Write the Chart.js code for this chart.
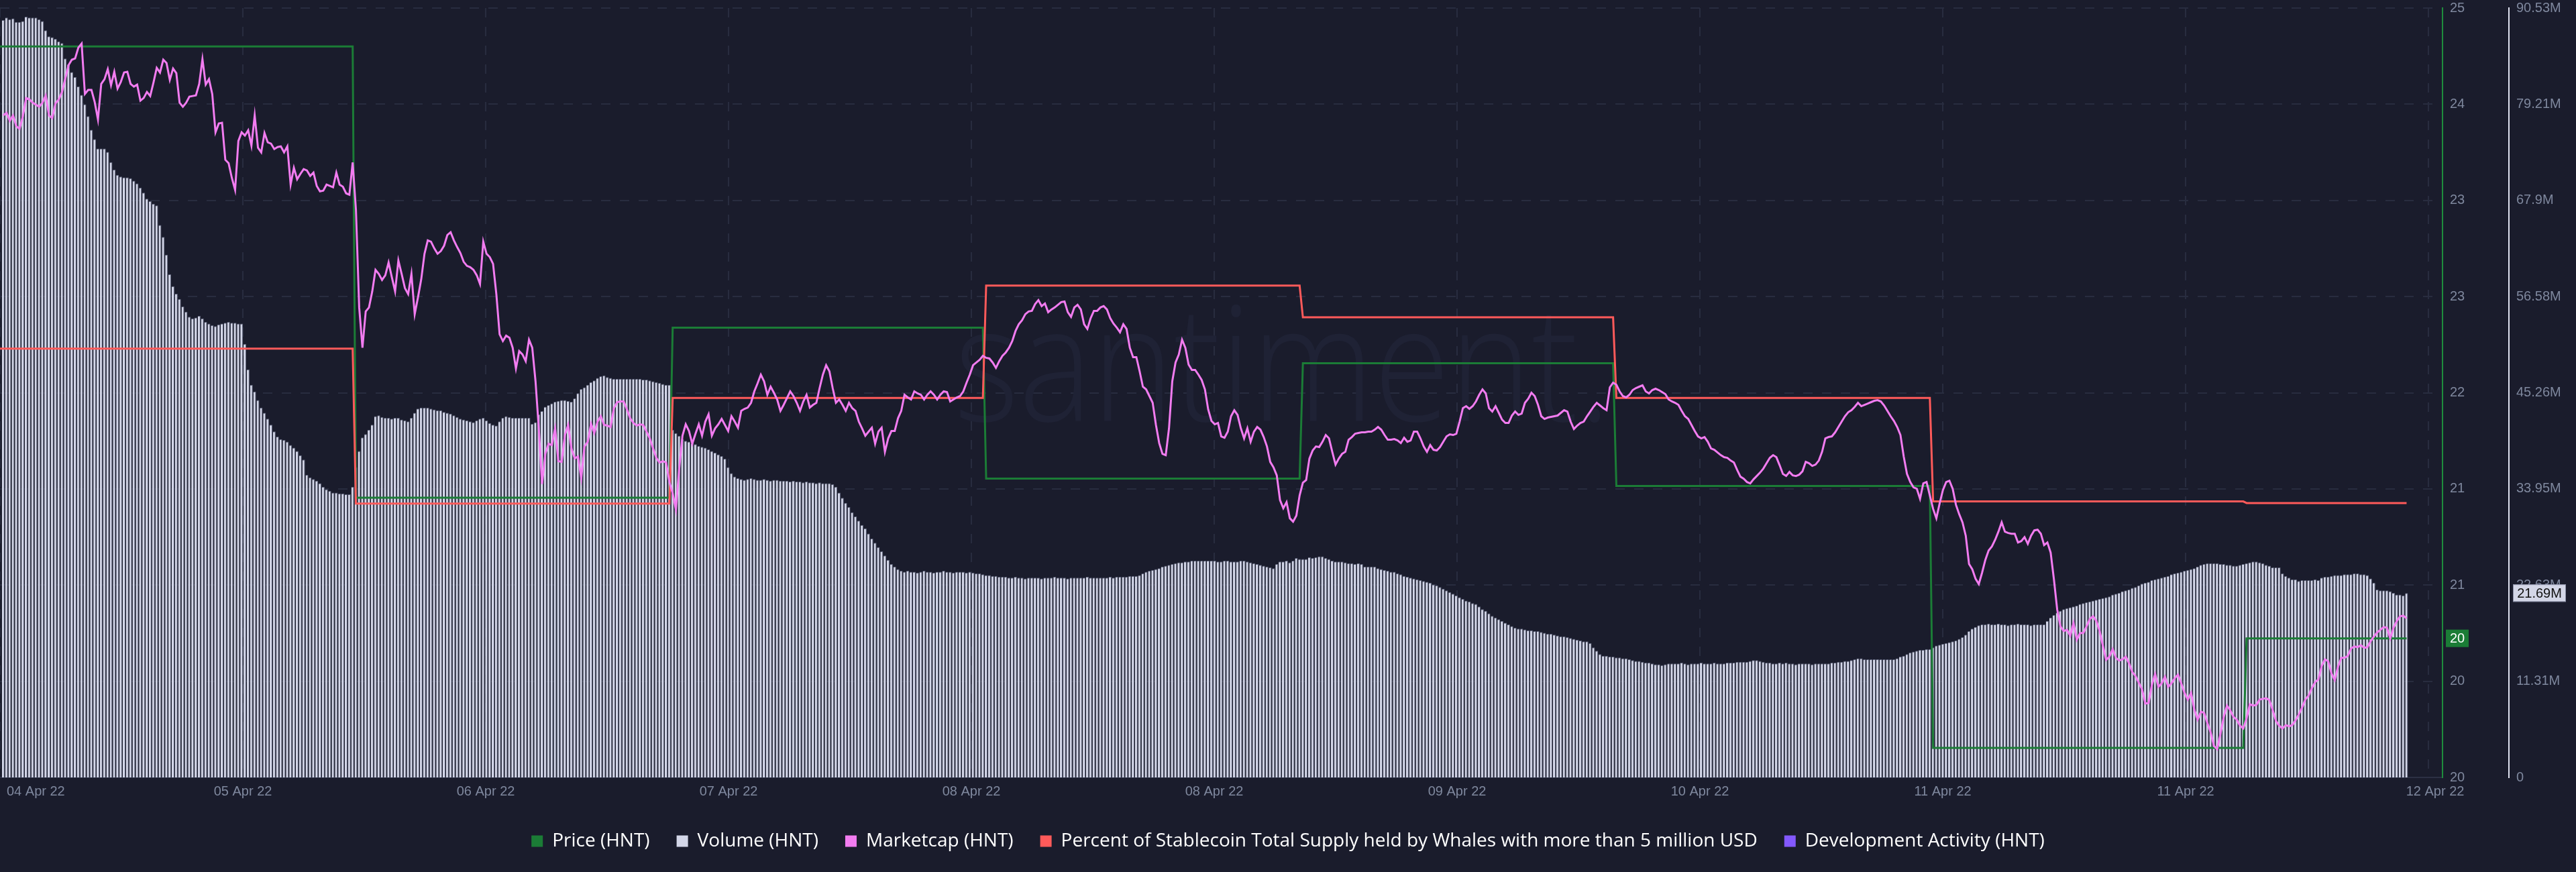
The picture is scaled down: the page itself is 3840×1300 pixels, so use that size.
<!DOCTYPE html>
<html>
<head>
<meta charset="utf-8">
<script src="https://cdn.jsdelivr.net/npm/chart.js@4.4.1/dist/chart.umd.min.js"></script>
<style>
  html, body { margin: 0; padding: 0; background: #1a1c2c; }
  #chart { display: block; width: 3840px; height: 1300px; }
</style>
</head>
<body>
<canvas id="chart" width="3840" height="1300"></canvas>
<script>
// ---- data (15 min samples, bar index 0 .. n-1) ----
const xTickLabels = ['04 Apr 22', '05 Apr 22', '06 Apr 22', '07 Apr 22', '08 Apr 22', '08 Apr 22',
  '09 Apr 22', '10 Apr 22', '11 Apr 22', '11 Apr 22', '12 Apr 22'];
const priceTickLabels = ['20', '20', '21', '21', '22', '23', '23', '24', '25'];
const volumeTickLabels = ['0', '11.31M', '22.63M', '33.95M', '45.26M', '56.58M', '67.9M', '79.21M', '90.53M'];

// daily series: first sample index of each day and the value
const dayStart = [-1, 108, 205, 301, 398, 494, 591, 687];
const priceValues = [24.46, 21.41, 22.56, 21.54, 22.32, 21.49, 19.72, 20.46];
const whaleValues = [38.36, 35.34, 37.40, 39.59, 38.97, 37.40, 35.38, 35.35];

// volume, millions USD
const volumeValues = [
  89.1, 89.4, 89.2, 89.3, 88.9, 88.9, 89.0, 89.5, 89.4, 89.4,
  89.4, 89.2, 89.0, 87.9, 87.2, 87.1, 86.9, 86.6, 86.4, 84.6,
  83.9, 83.0, 82.4, 81.3, 80.3, 79.2, 77.8, 76.2, 75.1, 74.0,
  74.0, 74.0, 73.6, 72.4, 71.5, 70.9, 70.7, 70.6, 70.6, 70.5,
  70.2, 69.9, 69.4, 68.8, 68.1, 67.8, 67.5, 67.3, 65.0, 63.6,
  61.5, 59.2, 57.8, 56.9, 56.3, 55.4, 54.8, 54.2, 54.0, 54.1,
  54.3, 54.0, 53.6, 53.4, 53.2, 53.1, 53.3, 53.4, 53.5, 53.6,
  53.5, 53.5, 53.4, 53.4, 51.0, 48.0, 46.2, 45.4, 44.4, 43.5,
  42.9, 42.2, 41.5, 40.7, 40.1, 39.8, 39.7, 39.5, 39.1, 38.8,
  38.4, 37.9, 37.4, 35.6, 35.3, 35.1, 34.9, 34.6, 34.2, 33.9,
  33.7, 33.5, 33.5, 33.4, 33.4, 33.3, 33.3, 34.2, 36.5, 38.4,
  40.0, 40.4, 40.9, 41.5, 42.5, 42.6, 42.4, 42.3, 42.3, 42.2,
  42.3, 42.3, 42.1, 42.0, 41.9, 42.3, 42.9, 43.4, 43.5, 43.5,
  43.5, 43.4, 43.3, 43.2, 43.2, 43.0, 42.9, 42.8, 42.6, 42.4,
  42.2, 42.1, 42.0, 41.9, 41.8, 42.0, 42.2, 42.3, 42.0, 41.7,
  41.5, 41.4, 41.9, 42.3, 42.5, 42.4, 42.3, 42.3, 42.3, 42.3,
  42.3, 42.3, 41.6, 41.8, 42.7, 43.1, 43.6, 43.8, 44.0, 44.2,
  44.3, 44.4, 44.4, 44.3, 44.2, 44.6, 45.2, 45.7, 45.9, 46.2,
  46.5, 46.7, 47.0, 47.2, 47.3, 47.1, 47.0, 46.9, 46.9, 46.9,
  46.9, 46.9, 46.9, 46.9, 46.9, 46.9, 46.8, 46.8, 46.7, 46.6,
  46.5, 46.4, 46.3, 46.2, 46.2, 40.9, 40.5, 40.2, 39.8, 39.6,
  39.5, 39.3, 39.2, 39.0, 38.9, 38.8, 38.6, 38.4, 38.2, 38.0,
  37.8, 37.5, 36.5, 35.8, 35.4, 35.2, 35.1, 35.0, 35.1, 35.2,
  35.1, 35.0, 35.0, 35.1, 35.0, 34.9, 35.0, 35.0, 34.9, 34.9,
  34.9, 34.8, 34.9, 34.8, 34.8, 34.7, 34.8, 34.7, 34.7, 34.6,
  34.7, 34.6, 34.6, 34.6, 34.5, 34.2, 33.5, 32.9, 32.3, 31.8,
  31.2, 30.7, 30.2, 29.7, 29.3, 28.7, 28.1, 27.6, 27.1, 26.6,
  26.1, 25.6, 25.1, 24.8, 24.5, 24.3, 24.2, 24.3, 24.2, 24.2,
  24.1, 24.2, 24.3, 24.2, 24.2, 24.1, 24.2, 24.2, 24.3, 24.2,
  24.2, 24.1, 24.2, 24.2, 24.2, 24.1, 24.2, 24.1, 24.0, 24.0,
  23.9, 23.8, 23.8, 23.7, 23.7, 23.6, 23.6, 23.6, 23.5, 23.5,
  23.6, 23.5, 23.5, 23.4, 23.5, 23.5, 23.5, 23.5, 23.4, 23.5,
  23.5, 23.5, 23.6, 23.5, 23.5, 23.5, 23.4, 23.5, 23.5, 23.5,
  23.5, 23.5, 23.6, 23.5, 23.5, 23.5, 23.5, 23.5, 23.5, 23.6,
  23.5, 23.6, 23.6, 23.6, 23.6, 23.7, 23.7, 23.7, 23.8, 24.0,
  24.2, 24.3, 24.4, 24.5, 24.6, 24.8, 24.9, 25.0, 25.1, 25.2,
  25.3, 25.3, 25.4, 25.4, 25.5, 25.5, 25.5, 25.5, 25.5, 25.5,
  25.5, 25.5, 25.4, 25.4, 25.5, 25.5, 25.4, 25.4, 25.4, 25.5,
  25.5, 25.4, 25.3, 25.2, 25.1, 25.0, 24.9, 24.8, 24.7, 24.6,
  25.1, 25.4, 25.4, 25.5, 25.3, 25.5, 25.8, 25.7, 25.7, 25.7,
  25.9, 25.8, 25.9, 26.0, 26.0, 25.8, 25.7, 25.5, 25.4, 25.4,
  25.4, 25.3, 25.2, 25.2, 25.1, 25.2, 25.1, 24.8, 24.8, 24.8,
  24.8, 24.6, 24.5, 24.4, 24.3, 24.2, 24.2, 24.0, 23.9, 23.7,
  23.6, 23.5, 23.4, 23.3, 23.2, 23.1, 23.0, 22.9, 22.7, 22.6,
  22.4, 22.2, 22.0, 21.8, 21.6, 21.4, 21.2, 21.0, 20.8, 20.7,
  20.5, 20.4, 20.1, 19.8, 19.6, 19.3, 19.0, 18.8, 18.6, 18.4,
  18.2, 18.0, 17.8, 17.6, 17.5, 17.5, 17.4, 17.3, 17.3, 17.2,
  17.2, 17.1, 17.0, 16.9, 16.9, 16.8, 16.7, 16.6, 16.6, 16.5,
  16.4, 16.3, 16.2, 16.1, 16.0, 16.0, 15.8, 15.3, 14.9, 14.5,
  14.3, 14.3, 14.2, 14.2, 14.1, 14.1, 14.0, 14.0, 13.9, 13.8,
  13.7, 13.7, 13.6, 13.5, 13.5, 13.4, 13.3, 13.3, 13.2, 13.3,
  13.4, 13.4, 13.4, 13.4, 13.5, 13.4, 13.3, 13.4, 13.4, 13.4,
  13.5, 13.4, 13.4, 13.4, 13.5, 13.4, 13.4, 13.4, 13.5, 13.5,
  13.5, 13.6, 13.6, 13.6, 13.6, 13.7, 13.8, 13.8, 13.7, 13.6,
  13.5, 13.5, 13.4, 13.4, 13.5, 13.4, 13.5, 13.4, 13.4, 13.3,
  13.4, 13.4, 13.4, 13.4, 13.3, 13.4, 13.4, 13.4, 13.4, 13.4,
  13.5, 13.5, 13.6, 13.6, 13.7, 13.7, 13.8, 13.9, 14.0, 14.0,
  13.9, 13.9, 13.9, 13.9, 13.9, 13.9, 13.9, 13.9, 13.9, 13.9,
  14.0, 14.2, 14.3, 14.5, 14.7, 14.8, 14.9, 15.0, 15.0, 15.1,
  15.1, 15.3, 15.5, 15.6, 15.7, 15.8, 15.9, 16.0, 16.1, 16.3,
  16.5, 16.8, 17.2, 17.5, 17.7, 17.9, 18.0, 18.0, 18.1, 18.0,
  18.0, 18.1, 18.0, 18.0, 17.9, 18.0, 18.0, 18.1, 18.0, 18.0,
  18.0, 17.9, 18.0, 18.0, 18.0, 18.0, 18.4, 18.8, 19.1, 19.4,
  19.6, 19.8, 19.9, 20.0, 20.1, 20.2, 20.4, 20.5, 20.6, 20.7,
  20.8, 20.9, 21.0, 21.1, 21.2, 21.3, 21.5, 21.6, 21.7, 21.9,
  22.0, 22.1, 22.3, 22.4, 22.6, 22.8, 22.9, 23.0, 23.2, 23.3,
  23.4, 23.5, 23.6, 23.7, 23.9, 24.0, 24.1, 24.2, 24.3, 24.4,
  24.5, 24.6, 24.8, 25.0, 25.1, 25.2, 25.2, 25.2, 25.2, 25.1,
  25.1, 25.0, 25.0, 24.9, 24.9, 25.0, 25.1, 25.2, 25.3, 25.4,
  25.4, 25.3, 25.2, 25.0, 24.9, 24.7, 24.7, 24.7, 24.0, 23.7,
  23.5, 23.3, 23.3, 23.1, 23.2, 23.2, 23.2, 23.2, 23.3, 23.2,
  23.5, 23.6, 23.6, 23.7, 23.8, 23.8, 23.8, 23.9, 23.9, 23.9,
  24.0, 24.0, 23.9, 23.9, 23.8, 23.4, 22.9, 22.1, 22.0, 22.0,
  22.0, 21.9, 21.7, 21.5, 21.5, 21.4, 21.69
];

// marketcap, millions USD
const marketcapValues = [
  2986, 2990, 2978, 2986, 2970, 2966, 2985, 3012, 3010, 3005,
  3002, 2999, 3005, 3016, 2986, 2982, 3004, 3010, 3021, 3041,
  3061, 3069, 3071, 3087, 3093, 3018, 3024, 3024, 3006, 2980,
  3033, 3040, 3055, 3031, 3051, 3026, 3036, 3050, 3051, 3033,
  3029, 3032, 3008, 3012, 3021, 3015, 3035, 3057, 3050, 3069,
  3064, 3039, 3056, 3049, 3005, 2999, 3005, 3014, 3015, 3016,
  3033, 3070, 3032, 3040, 3018, 2961, 2974, 2975, 2920, 2915,
  2893, 2875, 2948, 2961, 2956, 2964, 2941, 2986, 2938, 2931,
  2960, 2946, 2944, 2936, 2939, 2940, 2931, 2940, 2883, 2908,
  2891, 2899, 2906, 2904, 2896, 2901, 2881, 2873, 2874, 2883,
  2881, 2879, 2901, 2883, 2880, 2870, 2868, 2916, 2846, 2700,
  2640, 2694, 2700, 2724, 2756, 2750, 2741, 2748, 2767, 2745,
  2724, 2770, 2750, 2729, 2720, 2750, 2690, 2715, 2742, 2780,
  2800, 2798, 2788, 2780, 2784, 2792, 2808, 2812, 2800, 2790,
  2781, 2768, 2762, 2760, 2756, 2748, 2735, 2798, 2780, 2775,
  2765, 2720, 2660, 2650, 2658, 2655, 2640, 2609, 2635, 2630,
  2620, 2652, 2640, 2590, 2520, 2437, 2482, 2497, 2495, 2520,
  2471, 2470, 2510, 2525, 2490, 2475, 2478, 2446, 2493, 2500,
  2527, 2513, 2530, 2538, 2525, 2524, 2522, 2550, 2559, 2560,
  2560, 2548, 2535, 2528, 2524, 2526, 2525, 2515, 2505, 2490,
  2476, 2469, 2471, 2469, 2440, 2423, 2399, 2460, 2509, 2526,
  2516, 2497, 2512, 2526, 2509, 2530, 2541, 2509, 2520, 2526,
  2534, 2525, 2516, 2538, 2530, 2521, 2546, 2549, 2551, 2558,
  2575, 2587, 2600, 2590, 2570, 2582, 2573, 2563, 2546, 2555,
  2565, 2575, 2568, 2558, 2546, 2560, 2570, 2551, 2555, 2558,
  2580, 2600, 2614, 2605, 2580, 2558, 2563, 2555, 2546, 2558,
  2550, 2546, 2530, 2520, 2509, 2515, 2521, 2497, 2515, 2521,
  2485, 2505, 2516, 2516, 2535, 2546, 2570, 2566, 2563, 2575,
  2572, 2570, 2563, 2570, 2575, 2570, 2563, 2570, 2575, 2574,
  2560, 2563, 2566, 2568, 2575, 2588, 2600, 2614, 2618, 2622,
  2628, 2625, 2624, 2618, 2610, 2620, 2628, 2633, 2640, 2650,
  2665, 2675, 2681, 2690, 2694, 2695, 2705, 2711, 2702, 2706,
  2693, 2697, 2700, 2704, 2708, 2709, 2693, 2686, 2700, 2704,
  2697, 2675, 2668, 2684, 2695, 2695, 2700, 2702, 2697, 2684,
  2676, 2670, 2663, 2675, 2668, 2640, 2626, 2626, 2605, 2582,
  2578, 2568, 2558, 2525, 2498, 2482, 2480, 2520, 2590, 2618,
  2630, 2652, 2640, 2615, 2607, 2607, 2600, 2592, 2578, 2548,
  2531, 2526, 2528, 2508, 2506, 2515, 2538, 2547, 2540, 2520,
  2505, 2520, 2500, 2515, 2522, 2518, 2507, 2493, 2470, 2462,
  2450, 2413, 2401, 2410, 2386, 2381, 2390, 2420, 2439, 2443,
  2475, 2487, 2493, 2492, 2500, 2510, 2505, 2485, 2466, 2475,
  2482, 2485, 2503, 2507, 2512, 2513, 2514, 2514, 2515, 2515,
  2518, 2522, 2518, 2510, 2503, 2503, 2504, 2502, 2498, 2506,
  2500, 2502, 2515, 2515, 2505, 2493, 2485, 2495, 2488, 2487,
  2492, 2500, 2508, 2511, 2510, 2512, 2530, 2550, 2553, 2549,
  2553, 2560, 2570, 2578, 2572, 2550, 2545, 2553, 2543, 2533,
  2528, 2528, 2539, 2545, 2540, 2542, 2558, 2564, 2573, 2568,
  2555, 2538, 2534, 2536, 2537, 2538, 2539, 2543, 2547, 2545,
  2530, 2519, 2524, 2528, 2530, 2538, 2545, 2552, 2558, 2554,
  2550, 2547, 2581, 2588, 2585, 2575, 2568, 2566, 2570, 2577,
  2580, 2582, 2584, 2575, 2572, 2577, 2579, 2577, 2574, 2571,
  2563, 2560, 2558, 2555, 2546, 2538, 2534, 2525, 2516, 2508,
  2505, 2507, 2500, 2490, 2488, 2484, 2480, 2477, 2476, 2472,
  2469, 2458, 2448, 2445, 2440, 2438, 2444, 2449, 2454, 2460,
  2468, 2476, 2480, 2477, 2465, 2452, 2449, 2455, 2450, 2449,
  2451, 2456, 2470, 2468, 2464, 2466, 2472, 2485, 2505, 2507,
  2508, 2514, 2522, 2530, 2538, 2544, 2547, 2552, 2558, 2553,
  2555, 2557, 2559, 2561, 2562, 2560, 2554, 2546, 2538, 2531,
  2522, 2510, 2478, 2452, 2440, 2432, 2430, 2415, 2438, 2440,
  2420, 2400, 2386, 2408, 2428, 2440, 2442, 2430, 2406, 2392,
  2380, 2360, 2318, 2310, 2296, 2288, 2305, 2324, 2338, 2344,
  2354, 2366, 2380, 2366, 2364, 2363, 2363, 2350, 2352, 2358,
  2348, 2360, 2368, 2369, 2363, 2346, 2350, 2335, 2295, 2250,
  2225, 2218, 2220, 2211, 2230, 2205, 2215, 2215, 2225, 2236,
  2240, 2233, 2218, 2196, 2175, 2180, 2191, 2178, 2174, 2176,
  2180, 2170, 2157, 2151, 2141, 2131, 2110, 2111, 2138, 2154,
  2135, 2140, 2150, 2135, 2140, 2148, 2153, 2140, 2126, 2116,
  2126, 2101, 2086, 2098, 2096, 2081, 2067, 2047, 2042, 2065,
  2090, 2107, 2100, 2090, 2086, 2077, 2073, 2088, 2109, 2107,
  2108, 2116, 2117, 2118, 2115, 2100, 2084, 2077, 2073, 2078,
  2076, 2078, 2085, 2094, 2104, 2116, 2122, 2133, 2142, 2146,
  2166, 2176, 2173, 2155, 2145, 2165, 2178, 2178, 2181, 2192,
  2195, 2194, 2197, 2193, 2194, 2203, 2210, 2216, 2220, 2224,
  2223, 2207, 2223, 2233, 2240, 2241, 2237
];

// ---- look ----
const BG = '#1a1c2c';
const GRID = '#282c3f';
const TICK_COLOR = '#7f889e';
const GREEN = '#1b7c36';
const PINK = '#f27cf0';
const RED = '#ff5a5a';
const PURPLE = '#8358ff';
const VOL_FILL = '#d3d6e8';
const VOL_EDGE = '#60657c';
const legendColors = [GREEN, VOL_FILL, PINK, RED, PURPLE];

const X_MIN = -1;
const X_MAX = 747;
const TICK_STEP = 74.37;

const lastIndex = volumeValues.length - 1;

function stepPoints(values) {
  const pts = [];
  values.forEach((v, k) => {
    const end = k + 1 < dayStart.length ? dayStart[k + 1] - 1 : lastIndex;
    pts.push({ x: dayStart[k], y: v });
    pts.push({ x: end, y: v });
  });
  return pts;
}

const volumePoints = volumeValues.map((v, i) => ({ x: i, y: v }));
const marketcapPoints = marketcapValues.map((v, i) => ({ x: i, y: v }));

Chart.defaults.font.family = '"Liberation Sans", Arial, sans-serif';
Chart.defaults.font.size = 20;

const background = {
  id: 'background',
  beforeDraw(chart) {
    const ctx = chart.ctx;
    ctx.save();
    ctx.fillStyle = BG;
    ctx.fillRect(0, 0, chart.width, chart.height);
    ctx.restore();
  }
};

const watermark = {
  id: 'watermark',
  beforeDatasetsDraw(chart) {
    const ctx = chart.ctx;
    ctx.save();
    ctx.font = '300 240px "Open Sans"';
    ctx.fillStyle = '#1f2235';
    ctx.textAlign = 'center';
    ctx.textBaseline = 'alphabetic';
    ctx.translate(1912, 628);
    ctx.scale(0.86, 1);
    ctx.fillText('santiment.', 0, 0);
    ctx.restore();
  }
};

// date labels under the plot, first one kept inside the canvas
const dateLabels = {
  id: 'dateLabels',
  afterDraw(chart) {
    const ctx = chart.ctx;
    const xs = chart.scales.x;
    const y = chart.chartArea.bottom + 21;
    ctx.save();
    ctx.font = '20px "Liberation Sans", Arial, sans-serif';
    ctx.fillStyle = TICK_COLOR;
    ctx.textBaseline = 'middle';
    xTickLabels.forEach((label, k) => {
      const px = xs.getPixelForValue(X_MIN + k * TICK_STEP);
      if (k === 0) {
        ctx.textAlign = 'left';
        ctx.fillText(label, px + 10, y);
      } else if (k === xTickLabels.length - 1) {
        ctx.textAlign = 'center';
        ctx.fillText(label, px + 10, y);
      } else {
        ctx.textAlign = 'center';
        ctx.fillText(label, px, y);
      }
    });
    ctx.restore();
  }
};

// last value markers on the two visible axes
const lastValues = {
  id: 'lastValues',
  afterDraw(chart) {
    const ctx = chart.ctx;
    const ps = chart.scales.price;
    const vs = chart.scales.volume;
    const lastPrice = priceValues[priceValues.length - 1];
    const lastVolume = volumeValues[volumeValues.length - 1];
    ctx.save();
    ctx.font = '20px "Liberation Sans", Arial, sans-serif';
    ctx.textAlign = 'center';
    ctx.textBaseline = 'middle';

    let y = ps.getPixelForValue(lastPrice);
    ctx.fillStyle = GREEN;
    ctx.fillRect(ps.left + 5, y - 13, 34, 26);
    ctx.fillStyle = '#ffffff';
    ctx.fillText(lastPrice.toFixed(0), ps.left + 22, y + 1);

    y = vs.getPixelForValue(lastVolume);
    ctx.fillStyle = '#d3d6e7';
    ctx.fillRect(vs.left + 6, y - 13, 79, 26);
    ctx.strokeStyle = '#8a8fa6';
    ctx.lineWidth = 1;
    ctx.strokeRect(vs.left + 6.5, y - 12.5, 78, 25);
    ctx.fillStyle = '#111111';
    ctx.fillText(lastVolume.toFixed(2) + 'M', vs.left + 45.5, y + 1);
    ctx.restore();
  }
};

function evenTicks(labels) {
  return scale => {
    const n = labels.length - 1;
    scale.ticks = labels.map((_, k) => ({ value: scale.min + k * (scale.max - scale.min) / n }));
  };
}

new Chart(document.getElementById('chart'), {
  type: 'bar',
  data: {
    datasets: [
      {
        type: 'line',
        label: 'Price (HNT)',
        data: stepPoints(priceValues),
        yAxisID: 'price',
        borderColor: GREEN,
        borderWidth: 3,
        pointRadius: 0,
        tension: 0,
        order: 3
      },
      {
        type: 'bar',
        label: 'Volume (HNT)',
        data: volumePoints,
        yAxisID: 'volume',
        backgroundColor: VOL_FILL,
        borderColor: VOL_EDGE,
        borderWidth: { top: 1, right: 1, left: 0, bottom: 0 },
        borderSkipped: 'bottom',
        barPercentage: 0.82,
        categoryPercentage: 1,
        order: 10
      },
      {
        type: 'line',
        label: 'Marketcap (HNT)',
        data: marketcapPoints,
        yAxisID: 'mc',
        borderColor: PINK,
        borderWidth: 3,
        pointRadius: 0,
        tension: 0,
        order: 1
      },
      {
        type: 'line',
        label: 'Percent of Stablecoin Total Supply held by Whales with more than 5 million USD',
        data: stepPoints(whaleValues),
        yAxisID: 'whale',
        borderColor: RED,
        borderWidth: 3,
        pointRadius: 0,
        tension: 0,
        order: 2
      },
      {
        type: 'line',
        label: 'Development Activity (HNT)',
        data: [],
        yAxisID: 'price',
        borderColor: PURPLE,
        pointRadius: 0,
        order: 4
      }
    ]
  },
  options: {
    responsive: false,
    animation: false,
    devicePixelRatio: 1,
    events: [],
    layout: { padding: { top: 12, left: 0, right: 0, bottom: 22 } },
    plugins: {
      tooltip: { enabled: false },
      legend: {
        position: 'bottom',
        align: 'center',
        labels: {
          color: '#ffffff',
          boxWidth: 17,
          boxHeight: 17,
          padding: 40,
          font: { family: '"Open Sans", sans-serif', size: 28 },
          generateLabels: chart => chart.data.datasets.map((ds, i) => ({
            text: ds.label,
            fillStyle: legendColors[i],
            strokeStyle: legendColors[i],
            lineWidth: 0,
            hidden: false,
            datasetIndex: i,
            fontColor: '#ffffff'
          }))
        }
      }
    },
    scales: {
      x: {
        type: 'linear',
        min: X_MIN,
        max: X_MAX,
        offset: false,
        grid: { color: GRID, lineWidth: 2, offset: false, drawTicks: false },
        border: { color: '#2c3044', width: 2, dash: [14, 14] },
        ticks: { display: false },
        afterBuildTicks: scale => {
          scale.ticks = xTickLabels.map((_, k) => ({ value: X_MIN + k * TICK_STEP }));
        },
        afterFit: scale => { scale.height = 41; }
      },
      price: {
        axis: 'y',
        position: 'right',
        weight: 0,
        min: 19.52,
        max: 24.72,
        grid: { color: GRID, lineWidth: 2, drawTicks: true, tickLength: 11, tickColor: 'rgba(0,0,0,0)' },
        border: { color: '#1e8c3c', width: 2, dash: [14, 14] },
        ticks: {
          color: TICK_COLOR,
          padding: 0,
          autoSkip: false,
          callback: (v, i) => priceTickLabels[i]
        },
        afterBuildTicks: evenTicks(priceTickLabels),
        afterFit: scale => { scale.width = 99; }
      },
      volume: {
        axis: 'y',
        position: 'right',
        weight: 1,
        min: 0,
        max: 90.53,
        grid: { display: false, drawTicks: true, tickLength: 11 },
        border: { color: '#dfe2f0', width: 2 },
        ticks: {
          color: TICK_COLOR,
          padding: 0,
          autoSkip: false,
          callback: (v, i) => volumeTickLabels[i]
        },
        afterBuildTicks: evenTicks(volumeTickLabels),
        afterFit: scale => { scale.width = 100; }
      },
      mc: { axis: 'y', display: false, min: 2000, max: 3146 },
      whale: { axis: 'y', display: false, min: 30, max: 45 }
    }
  },
  plugins: [background, watermark, dateLabels, lastValues]
});
</script>
</body>
</html>
